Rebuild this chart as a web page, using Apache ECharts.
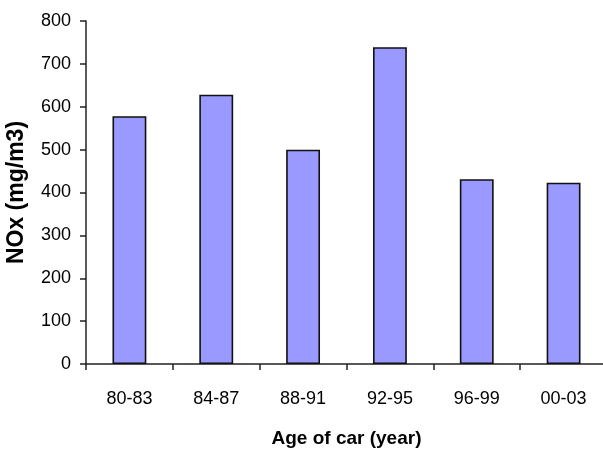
<!DOCTYPE html>
<html>
<head>
<meta charset="utf-8">
<script src="https://cdn.jsdelivr.net/npm/echarts@6/dist/echarts.min.js"></script>
<style>
  html, body { margin: 0; padding: 0; background: #fff; }
  #chart { width: 603px; height: 454px; }
</style>
</head>
<body>
<div id="chart"></div>
<script>
// Car age groups and measured NOx concentration
const categories = ['80-83', '84-87', '88-91', '92-95', '96-99', '00-03'];
const noxValues = [578, 628, 500, 739, 431, 423];
const yTicks = [0, 100, 200, 300, 400, 500, 600, 700, 800];

const font = "'Liberation Sans', Arial, sans-serif";

const chart = echarts.init(document.getElementById('chart'), null, { renderer: 'canvas' });
chart.setOption({
  animation: false,
  backgroundColor: '#ffffff',
  grid: { left: 86, top: 21, width: 521, height: 343, containLabel: false, outerBoundsMode: 'none' },
  xAxis: {
    type: 'category',
    data: categories,
    name: 'Age of car (year)',
    nameLocation: 'middle',
    nameGap: 65,
    nameTextStyle: { fontFamily: font, fontWeight: 'bold', fontSize: 19, color: '#000' },
    axisLine: { lineStyle: { color: '#222', width: 1.5 } },
    axisTick: { show: true, length: 6, lineStyle: { color: '#222', width: 1.5 } },
    axisLabel: { fontFamily: font, fontSize: 18, color: '#000', margin: 26 }
  },
  yAxis: {
    type: 'value',
    min: yTicks[0],
    max: yTicks[yTicks.length - 1],
    interval: 100,
    name: 'NOx (mg/m3)',
    nameLocation: 'middle',
    nameGap: 58,
    nameRotate: 90,
    nameTextStyle: { fontFamily: font, fontWeight: 'bold', fontSize: 23, color: '#000' },
    splitLine: { show: false },
    axisLine: { show: true, lineStyle: { color: '#222', width: 1.5 } },
    axisTick: { show: true, length: 6, lineStyle: { color: '#222', width: 1.5 } },
    axisLabel: { fontFamily: font, fontSize: 18, color: '#000', margin: 15 }
  },
  series: [{
    type: 'bar',
    data: noxValues,
    barWidth: '39%',
    itemStyle: { color: '#9999FF', borderColor: '#111', borderWidth: 1.6 }
  }]
});
</script>
</body>
</html>
